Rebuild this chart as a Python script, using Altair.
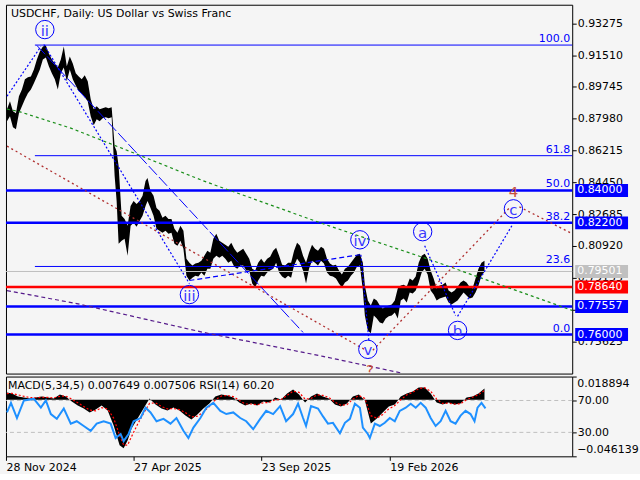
import altair as alt
import pandas as pd

TITLE = "USDCHF, Daily:  US Dollar vs Swiss Franc"
IND_TITLE = "MACD(5,34,5) 0.007649 0.007506 RSI(14) 60.20"

# ---------------- price (sampled high / low) ----------------
price_bar = [1, 4, 7, 10, 13, 16, 19, 22, 25, 28, 31, 34, 37, 40, 43, 46, 49, 52, 55, 58,
             61, 64, 67, 70, 73, 76, 79, 82, 85, 88, 91, 94, 97, 100, 103, 106, 109, 111, 113, 116,
             119, 122, 125, 128, 131, 134, 137, 140, 142, 145, 148, 151, 154, 157, 160, 163, 166, 169, 172, 175,
             178, 181, 184, 187, 190, 193, 196, 199, 202, 205, 208, 211, 214, 217, 220, 223, 226, 229, 232, 235,
             238, 241, 244, 247, 250, 253, 256, 259, 262, 265, 268, 271, 274, 277, 280, 283, 286, 289, 292, 295,
             298, 301, 304, 307, 310, 313, 316, 319, 322, 325, 328, 331, 334, 337, 340, 343, 346, 349, 352, 355,
             358, 360, 363, 366, 369, 372, 375, 378, 381, 384, 387, 390, 393, 396, 399, 402, 405, 408, 411, 414,
             417, 420, 423, 426, 429, 432, 435, 438, 441, 444, 447, 450, 453, 456, 459, 462, 465, 468, 471, 474,
             477, 480]
price_high = [0.8851, 0.8895, 0.8840, 0.8829, 0.8923, 0.8961, 0.9017, 0.9028, 0.9033, 0.9072, 0.9127, 0.9171, 0.9199, 0.9205, 0.9160, 0.9127, 0.9105, 0.9083, 0.9127, 0.9199,
              0.9089, 0.9144, 0.9105, 0.9050, 0.9033, 0.9017, 0.9039, 0.9006, 0.8906, 0.8851, 0.8867, 0.8851, 0.8856, 0.8862, 0.8856, 0.8862, 0.8646, 0.8618, 0.8536, 0.8259,
              0.8242, 0.8204, 0.8314, 0.8342, 0.8325, 0.8342, 0.8370, 0.8453, 0.8469, 0.8397, 0.8370, 0.8303, 0.8287, 0.8248, 0.8259, 0.8242, 0.8242, 0.8187, 0.8165, 0.8204,
              0.8176, 0.8021, 0.7999, 0.7983, 0.7994, 0.7999, 0.8010, 0.8038, 0.8065, 0.8054, 0.8132, 0.8160, 0.8121, 0.8110, 0.8099, 0.8088, 0.8110, 0.8077, 0.8054, 0.8065,
              0.8077, 0.8049, 0.8021, 0.7966, 0.7955, 0.7999, 0.8021, 0.7999, 0.8021, 0.8032, 0.8065, 0.8082, 0.8038, 0.7988, 0.7983, 0.7999, 0.7999, 0.8065, 0.8110, 0.8093,
              0.8038, 0.7999, 0.8054, 0.8099, 0.8077, 0.8065, 0.8088, 0.8077, 0.8021, 0.7994, 0.7983, 0.7988, 0.7955, 0.7933, 0.7966, 0.7977, 0.7999, 0.8021, 0.8043, 0.8049,
              0.7999, 0.7872, 0.7789, 0.7761, 0.7800, 0.7789, 0.7761, 0.7745, 0.7756, 0.7761, 0.7767, 0.7789, 0.7855, 0.7872, 0.7877, 0.7866, 0.7911, 0.7900, 0.7922, 0.7999,
              0.8038, 0.8049, 0.8021, 0.7955, 0.7911, 0.7855, 0.7872, 0.7877, 0.7889, 0.7844, 0.7833, 0.7844, 0.7866, 0.7889, 0.7900, 0.7889, 0.7866, 0.7855, 0.7911, 0.7966,
              0.7999, 0.8010]
price_low = [0.8784, 0.8812, 0.8751, 0.8740, 0.8829, 0.8867, 0.8906, 0.8939, 0.8961, 0.8995, 0.9033, 0.9072, 0.9127, 0.9138, 0.9089, 0.9050, 0.9017, 0.8961, 0.9050, 0.9083,
             0.9006, 0.9072, 0.9017, 0.8983, 0.8950, 0.8939, 0.8917, 0.8895, 0.8812, 0.8762, 0.8795, 0.8784, 0.8801, 0.8807, 0.8801, 0.8807, 0.8480, 0.8342, 0.8104, 0.8121,
             0.8132, 0.8038, 0.8204, 0.8220, 0.8198, 0.8231, 0.8259, 0.8314, 0.8342, 0.8303, 0.8259, 0.8187, 0.8176, 0.8165, 0.8176, 0.8160, 0.8165, 0.8104, 0.8093, 0.8121,
             0.8077, 0.7927, 0.7900, 0.7916, 0.7927, 0.7922, 0.7944, 0.7927, 0.7966, 0.7966, 0.8021, 0.8038, 0.8027, 0.8038, 0.8021, 0.7999, 0.8010, 0.7977, 0.7966, 0.7983,
             0.7983, 0.7955, 0.7955, 0.7883, 0.7861, 0.7900, 0.7927, 0.7922, 0.7944, 0.7955, 0.7966, 0.7999, 0.7944, 0.7922, 0.7911, 0.7927, 0.7916, 0.7983, 0.8021, 0.7999,
             0.7955, 0.7883, 0.7966, 0.8010, 0.7999, 0.7983, 0.8010, 0.7994, 0.7944, 0.7927, 0.7922, 0.7911, 0.7883, 0.7861, 0.7889, 0.7900, 0.7927, 0.7944, 0.7977, 0.7983,
             0.7844, 0.7706, 0.7623, 0.7607, 0.7706, 0.7689, 0.7667, 0.7662, 0.7689, 0.7701, 0.7706, 0.7723, 0.7689, 0.7789, 0.7800, 0.7778, 0.7833, 0.7828, 0.7844, 0.7889,
             0.7944, 0.7966, 0.7933, 0.7844, 0.7822, 0.7789, 0.7800, 0.7806, 0.7811, 0.7778, 0.7767, 0.7778, 0.7789, 0.7811, 0.7833, 0.7817, 0.7800, 0.7806, 0.7833, 0.7872,
             0.7927, 0.7949]

# ---------------- indicators ----------------
macd_bar = [1, 6, 12, 18, 24, 30, 36, 42, 48, 54, 60, 66, 72, 78, 84, 90, 96, 102, 108, 114,
            118, 122, 126, 132, 138, 144, 150, 156, 162, 168, 174, 180, 186, 192, 198, 204, 210, 216, 222, 228,
            234, 240, 246, 252, 258, 264, 270, 276, 282, 288, 294, 300, 306, 312, 318, 324, 330, 336, 342, 348,
            354, 360, 366, 372, 378, 384, 390, 396, 402, 408, 414, 420, 426, 432, 438, 444, 450, 456, 462, 468,
            474, 480]
macd_hist = [0.0059, 0.0051, 0.0026, 0.0018, 0.0010, 0.0018, 0.0026, 0.0018, 0.0010, 0.0043, 0.0026, -0.0014, -0.0047, -0.0071, -0.0104, -0.0079, -0.0047, -0.0088, -0.0210, -0.0372,
             -0.0396, -0.0332, -0.0234, -0.0153, -0.0071, 0.0010, -0.0039, -0.0071, -0.0088, -0.0063, -0.0088, -0.0128, -0.0161, -0.0120, -0.0071, -0.0031, 0.0026, 0.0043, 0.0034, 0.0018,
             -0.0022, -0.0047, -0.0031, -0.0047, -0.0014, -0.0022, 0.0018, 0.0002, 0.0051, 0.0083, 0.0043, -0.0022, 0.0026, 0.0051, 0.0026, 0.0010, -0.0039, -0.0055, -0.0031, 0.0026,
             0.0043, -0.0006, -0.0193, -0.0153, -0.0104, -0.0055, -0.0039, 0.0026, 0.0051, 0.0067, 0.0100, 0.0100, 0.0051, -0.0022, -0.0039, -0.0022, -0.0039, -0.0031, 0.0018, 0.0026,
             0.0051, 0.0091]
macd_signal = [0.0050, 0.0052, 0.0040, 0.0028, 0.0018, 0.0016, 0.0020, 0.0020, 0.0015, 0.0028, 0.0030, 0.0005, -0.0025, -0.0055, -0.0085, -0.0090, -0.0065, -0.0075, -0.0150, -0.0290,
               -0.0370, -0.0370, -0.0300, -0.0200, -0.0110, -0.0030, -0.0025, -0.0055, -0.0075, -0.0072, -0.0080, -0.0105, -0.0140, -0.0135, -0.0100, -0.0055, 0.0000, 0.0030, 0.0035, 0.0025,
               -0.0005, -0.0035, -0.0035, -0.0042, -0.0025, -0.0022, 0.0000, 0.0002, 0.0035, 0.0070, 0.0060, 0.0005, 0.0010, 0.0040, 0.0035, 0.0018, -0.0020, -0.0045, -0.0040, 0.0005,
               0.0035, 0.0010, -0.0130, -0.0150, -0.0120, -0.0075, -0.0048, 0.0000, 0.0040, 0.0060, 0.0090, 0.0098, 0.0070, 0.0005, -0.0030, -0.0028, -0.0035, -0.0033, 0.0000, 0.0020,
               0.0042, 0.0075]
rsi_bar = [1, 5, 11, 18, 28, 35, 40, 45, 51, 58, 65, 71, 78, 85, 91, 98, 105, 110, 115, 118,
           123, 128, 135, 140, 145, 151, 158, 165, 171, 178, 183, 188, 195, 201, 208, 215, 221, 228, 235, 241,
           248, 255, 261, 268, 275, 281, 288, 293, 298, 301, 306, 313, 318, 323, 328, 335, 340, 345, 350, 355,
           358, 363, 365, 370, 375, 380, 385, 390, 395, 401, 406, 411, 416, 421, 426, 431, 436, 441, 446, 451,
           456, 461, 466, 470, 473, 477, 481]
rsi_val = [55, 67, 48, 70, 72, 61, 70, 53, 47, 60, 41, 44, 38, 32, 41, 44, 41, 23, 28, 19,
           28, 44, 48, 61, 55, 44, 47, 41, 48, 32, 23, 36, 48, 61, 67, 57, 53, 55, 48, 44,
           34, 47, 57, 53, 63, 44, 53, 66, 48, 38, 63, 60, 50, 41, 42, 29, 42, 47, 66, 61,
           36, 28, 23, 41, 38, 42, 48, 44, 57, 61, 66, 61, 67, 61, 48, 38, 44, 57, 44, 41,
           51, 57, 53, 44, 61, 67, 60.2]
rsi_levels = [70, 30]
rsi_ticks = [100, 70, 30, 0]
macd_max = 0.018894
macd_min = -0.046139

# ---------------- levels, axis, labels ----------------
price_ticks = [0.93275, 0.91510, 0.89745, 0.87980, 0.86215, 0.84450, 0.82685, 0.80920, 0.79155, 0.77390, 0.75625]
fib_names = ["100.0", "61.8", "50.0", "38.2", "23.6", "0.0"]
fib_prices = [0.9207, 0.8593, 0.8400, 0.8220, 0.7978, 0.7600]
blue_levels = [0.84000, 0.82200, 0.77557, 0.76000]
red_levels = [0.78640]
last_price = [0.79501]

wave_names = ["ii", "iii", "iv", "v", "a", "b", "c"]
wave_bar = [39, 184, 355, 363, 418, 453, 509]
wave_price = [0.9293, 0.7822, 0.8126, 0.7518, 0.8171, 0.7623, 0.8298]
red_marks = ["4", "?"]
red_mark_bar = [509, 365]
red_mark_price = [0.8392, 0.7402]

dotted_seg = [1, 1, 2, 2, 3, 3, 4, 4, 5, 5]
dotted_bar = [1, 35, 38, 184, 356, 364, 420, 451, 453, 508]
dotted_price = [0.8923, 0.9199, 0.9210, 0.7883, 0.8043, 0.7568, 0.8093, 0.7706, 0.7701, 0.8209]
dashed_bar = [184, 355]
dashed_price = [0.7900, 0.8043]
channel_bar = [31, 298]
channel_price = [0.9205, 0.7612]
red_seg = [1, 1, 2, 2, 3, 3]
red_bar = [1, 361, 368, 505, 515, 568]
red_price = [0.8646, 0.7513, 0.7513, 0.8303, 0.8309, 0.8160]
green_bar = [1, 12, 65, 131, 198, 318, 428, 568]
green_price = [0.8851, 0.8840, 0.8746, 0.8602, 0.8453, 0.8215, 0.8010, 0.7734]
purple_bar = [1, 71, 198, 318, 398]
purple_price = [0.7844, 0.7772, 0.7612, 0.7479, 0.7385]

date_bars = [0, 128, 256, 385]
date_labels = ["28 Nov 2024", "27 Apr 2025", "23 Sep 2025", "19 Feb 2026"]

# ---------------- chart ----------------
W, H, HI = 568, 370, 80
FONT = "DejaVu Sans"
BLUE = "#0000ff"

xs = alt.Scale(domain=[0, 568], nice=False, zero=False)
ys = alt.Scale(domain=[0.73834, 0.94310], nice=False, zero=False)
yaxis = alt.Axis(values=price_ticks, format=".5f", orient="right", tickSize=4, tickColor="black",
                 labelPadding=1, domain=False, grid=False, labelFlush=False, labelOverlap=False,
                 labelFontSize=11, labelColor="black", labelFont=FONT, title=None)


def X(f="bar"):
    return alt.X(f"{f}:Q", scale=xs, axis=None)


def Y(f):
    return alt.Y(f"{f}:Q", scale=ys, axis=yaxis)


df_price = pd.DataFrame({"bar": price_bar, "hi": price_high, "lo": price_low})
price = alt.Chart(df_price).mark_area(color="black", opacity=1).encode(x=X(), y=Y("hi"), y2="lo:Q")

df_fib = pd.DataFrame({"name": fib_names, "p": fib_prices})
fib_lines = alt.Chart(df_fib).mark_rule(color=BLUE, strokeWidth=1).encode(
    x=X("x0"), x2="x1:Q", y=Y("p")).transform_calculate(x0="29", x1="568")
fib_text = alt.Chart(df_fib).mark_text(color=BLUE, align="right", baseline="bottom", fontSize=11, font=FONT, dy=-1).encode(
    x=X("xt"), y=Y("p"), text="name:N").transform_calculate(xt="566")

gray_line = alt.Chart(pd.DataFrame({"p": last_price})).mark_rule(color="#c0c0c0", strokeWidth=1).encode(y=Y("p"))
blue_lines = alt.Chart(pd.DataFrame({"p": blue_levels})).mark_rule(color=BLUE, strokeWidth=2.5).encode(y=Y("p"))
red_lines = alt.Chart(pd.DataFrame({"p": red_levels})).mark_rule(color="#ff0000", strokeWidth=2.5).encode(y=Y("p"))

df_dot = pd.DataFrame({"seg": dotted_seg, "bar": dotted_bar, "p": dotted_price})
dot_lines = alt.Chart(df_dot).mark_line(color=BLUE, strokeWidth=1.2, strokeDash=[2, 2]).encode(
    x=X(), y=Y("p"), detail="seg:N")
dash_line = alt.Chart(pd.DataFrame({"bar": dashed_bar, "p": dashed_price})).mark_line(
    color=BLUE, strokeWidth=1.2, strokeDash=[5, 3]).encode(x=X(), y=Y("p"))
chan_line = alt.Chart(pd.DataFrame({"bar": channel_bar, "p": channel_price})).mark_line(
    color=BLUE, strokeWidth=1, strokeDash=[12, 3]).encode(x=X(), y=Y("p"))
df_red = pd.DataFrame({"seg": red_seg, "bar": red_bar, "p": red_price})
red_dots = alt.Chart(df_red).mark_line(color="#b03030", strokeWidth=1.3, strokeDash=[2, 3]).encode(
    x=X(), y=Y("p"), detail="seg:N")
green_line = alt.Chart(pd.DataFrame({"bar": green_bar, "p": green_price})).mark_line(
    color="#1a8f1a", strokeWidth=1.2, strokeDash=[3, 3]).encode(x=X(), y=Y("p"))
purple_line = alt.Chart(pd.DataFrame({"bar": purple_bar, "p": purple_price})).mark_line(
    color="#551a8b", strokeWidth=1.2, strokeDash=[4, 3], clip=True).encode(x=X(), y=Y("p"))

df_wave = pd.DataFrame({"name": wave_names, "bar": wave_bar, "p": wave_price})
wave_circ = alt.Chart(df_wave).mark_point(shape="circle", size=340, filled=False, color=BLUE, strokeWidth=1, opacity=1).encode(
    x=X(), y=Y("p"))
wave_txt = alt.Chart(df_wave).mark_text(color="#3a3aff", fontSize=15, font=FONT, baseline="middle", dy=1).encode(
    x=X(), y=Y("p"), text="name:N")
df_rm = pd.DataFrame({"name": red_marks, "bar": red_mark_bar, "p": red_mark_price})
red_txt = alt.Chart(df_rm).mark_text(color="#c8503c", fontSize=15, font=FONT, baseline="middle", clip=True).encode(
    x=X(), y=Y("p"), text="name:N")


def box(vals, col):
    d = pd.DataFrame({"p": vals})
    r = alt.Chart(d).mark_rule(color=col, strokeWidth=13).encode(x=alt.value(571), x2=alt.value(624), y=Y("p"))
    t = alt.Chart(d).mark_text(color="white", align="left", baseline="middle", fontSize=11, font=FONT).encode(
        x=alt.value(573), y=Y("p"), text=alt.Text("p:Q", format=".5f"))
    return [r, t]


title = alt.Chart(pd.DataFrame({"t": [TITLE]})).mark_text(
    align="left", baseline="middle", fontSize=11, font=FONT, color="black").encode(
    x=alt.value(5), y=alt.value(9), text="t:N")

main = alt.layer(
    price, gray_line, fib_lines, blue_lines, red_lines,
    green_line, red_dots, purple_line, chan_line, dot_lines, dash_line,
    fib_text, wave_circ, wave_txt, red_txt,
    *box(blue_levels, BLUE), *box(red_levels, "#ff0000"), *box(last_price, "#c0c0c0"),
    title,
).properties(width=W, height=H)

# ---------------- indicator panel ----------------
label_expr = " : ".join(f"datum.value == {b} ? '{l}'" for b, l in zip(date_bars, date_labels)) + " : ''"
xi_axis = alt.Axis(values=date_bars, labelExpr=label_expr, tickSize=4, tickColor="black", labelAlign="left",
                   labelPadding=1, domain=False, grid=False, labelFontSize=11, labelFont=FONT, labelColor="black",
                   labelFlush=False, labelOverlap=False, title=None)


def XI():
    return alt.X("bar:Q", scale=xs, axis=xi_axis)


ms = alt.Scale(domain=[macd_min, macd_max], nice=False, zero=False)
rs = alt.Scale(domain=[0, 100], nice=False, zero=False)
rsi_axis = alt.Axis(values=rsi_ticks, orient="right", tickSize=4, tickColor="black", labelPadding=1, domain=False,
                    grid=False, labelFontSize=11, labelFont=FONT, labelColor="black", labelFlush=False,
                    labelOverlap=False, title=None,
                    labelExpr="(datum.value == 70 || datum.value == 30) ? format(datum.value, '.2f') : ''")

df_lv = pd.DataFrame({"v": rsi_levels})
lv = alt.Chart(df_lv).mark_rule(color="#c0c0c0", strokeWidth=1, strokeDash=[4, 3]).encode(
    y=alt.Y("v:Q", scale=rs, axis=rsi_axis))
ind_title = alt.Chart(pd.DataFrame({"t": [IND_TITLE]})).mark_text(
    align="left", baseline="middle", fontSize=11, font=FONT, color="black").encode(
    x=alt.value(2), y=alt.value(9), text="t:N")
L1 = alt.layer(lv, ind_title)

df_macd = pd.DataFrame({"bar": macd_bar, "h": macd_hist, "s": macd_signal})
hist = alt.Chart(df_macd).mark_area(color="black", opacity=1).encode(
    x=XI(), y=alt.Y("h:Q", scale=ms, axis=None), y2="z:Q").transform_calculate(z="0")
sig = alt.Chart(df_macd).mark_line(color="#ff0000", strokeWidth=1.2, strokeDash=[2, 2]).encode(
    x=XI(), y=alt.Y("s:Q", scale=ms, axis=None))
mtop = alt.Chart(pd.DataFrame({"v": [macd_max]})).mark_text(
    align="left", baseline="top", fontSize=11, font=FONT, color="black", dy=1).encode(
    x=alt.value(573), y=alt.Y("v:Q", scale=ms, axis=None), text=alt.Text("v:Q", format=".6f"))
mbot = alt.Chart(pd.DataFrame({"v": [macd_min]})).mark_text(
    align="left", baseline="bottom", fontSize=11, font=FONT, color="black", dy=-1).encode(
    x=alt.value(573), y=alt.Y("v:Q", scale=ms, axis=None), text=alt.Text("v:Q", format=".6f"))
L2 = alt.layer(hist, sig, mtop, mbot)

df_rsi = pd.DataFrame({"bar": rsi_bar, "r": rsi_val})
L3 = alt.Chart(df_rsi).mark_line(color="#1e90ff", strokeWidth=2).encode(
    x=XI(), y=alt.Y("r:Q", scale=rs, axis=None))

ind = alt.layer(L1, L2, L3).resolve_scale(y="independent").properties(width=W, height=HI)

chart = alt.vconcat(main, ind, spacing=3, bounds="flush").properties(
    padding={"left": 2, "top": 3, "right": 0, "bottom": 0},
    background="#f5f5f5",
).configure_view(stroke="black", strokeWidth=1).configure_axis(labelFont=FONT)

chart.save("out.html", embed_options={"renderer": "svg", "actions": False})
